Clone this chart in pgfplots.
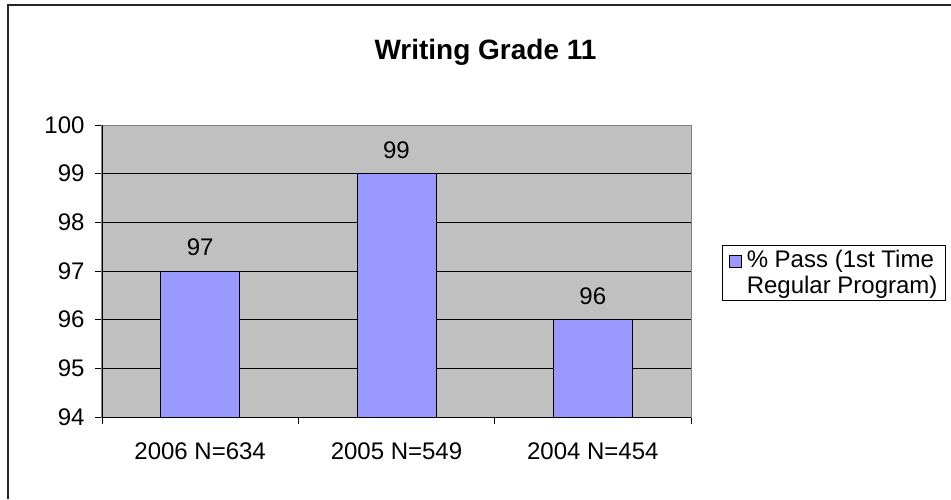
\documentclass[border=0pt]{standalone}
\usepackage{pgfplots}
\pgfplotsset{compat=1.18}
\usepackage{fontspec}
\setmainfont{Liberation Sans}
\definecolor{barblue}{HTML}{9999FF}
\definecolor{plotgray}{HTML}{C0C0C0}
\begin{document}
\begin{tikzpicture}[x=1pt,y=1pt]
\begin{axis}[
  at={(102pt,82pt)}, anchor=south west,
  scale only axis, width=589pt, height=292pt,
  xmin=-0.5, xmax=2.5, ymin=94, ymax=100,
  ytick={94,95,...,100},
  xtick={0,1,2},
  xticklabels={2006 N=634, 2005 N=549, 2004 N=454},
  minor xtick={-0.5,0.5,1.5,2.5},
  major x tick style={draw=none},
  tick align=outside, tick pos=left,
  major tick length=7pt, minor tick length=7pt,
  y tick style={black, line width=0.8pt},
  minor x tick style={black, line width=0.8pt},
  ymajorgrids, grid style={black, line width=0.8pt},
  axis background/.style={fill=plotgray},
  axis line style={draw=gray, line width=1pt},
  /pgf/number format/assume math mode=true,
  ticklabel style={font=\fontsize{24}{28}\selectfont},
  yticklabel style={xshift=-7pt},
  xticklabel style={yshift=-15pt},
  ybar, bar width=79pt,
  nodes near coords,
  every node near coord/.append style={font=\fontsize{24}{28}\selectfont, black, yshift=11pt},
  legend style={at={(1.4329,0.3973)}, anchor=south east, draw=black, line width=1pt, fill=white,
    font=\fontsize{24}{26}\selectfont, inner xsep=6pt, inner ysep=2pt, legend cell align=left,
    nodes={inner ysep=3pt},
    /tikz/every odd column/.append style={column sep=3pt}},
  legend image code/.code={\draw[#1, draw=black, line width=0.8pt] (0.5pt,6pt) rectangle (12.5pt,18pt);},
]
\addplot[fill=barblue, draw=black, line width=1pt] coordinates {(0,97) (1,99) (2,96)};
\addlegendentry{\vbox{\hbox{\% Pass (1st Time}\hbox{Regular Program)}}}
\end{axis}
\draw[black, line width=1pt] (102,82) -- (102,374);
\draw[black, line width=1pt] (102,82) -- (691,82);
\node[anchor=base, font=\bfseries\fontsize{28}{32}\selectfont] at (485.5,439) {Writing Grade 11};
\draw[black!85, line width=1.5pt] (8,0) -- (8,494) -- (951,494);
\pgfresetboundingbox
\path (0,0) rectangle (951,499);
\end{tikzpicture}
\end{document}
